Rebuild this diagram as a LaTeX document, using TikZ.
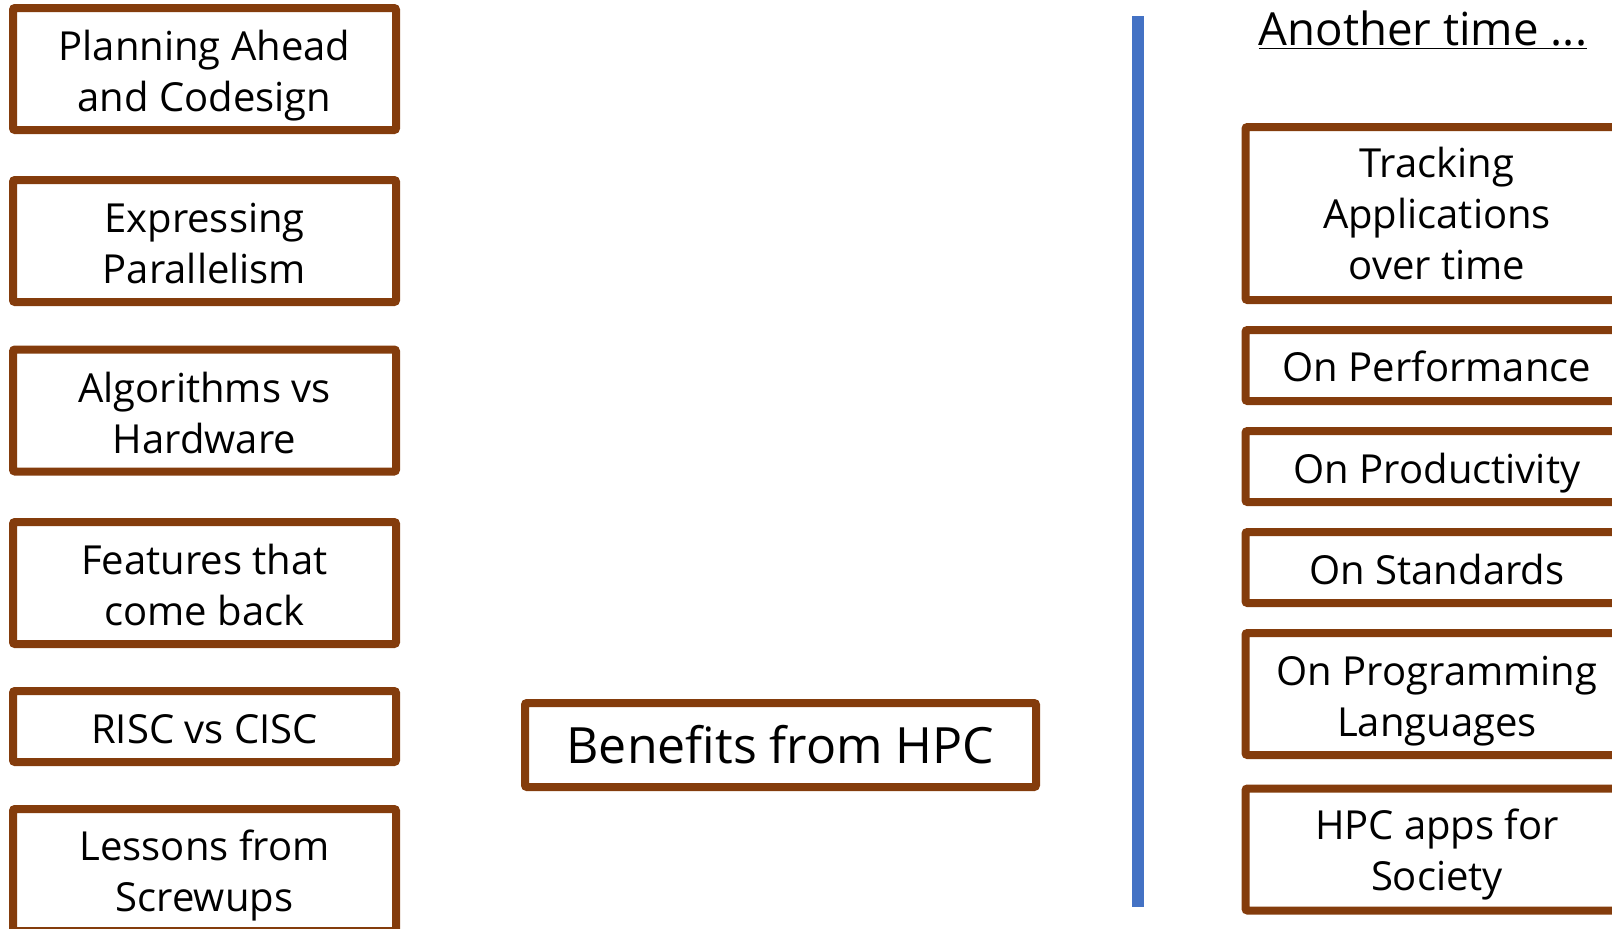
\documentclass[tikz,border=0pt]{standalone}
\usepackage{fontspec}
\setmainfont{Open Sans}
\definecolor{topicbrown}{RGB}{132,60,12}
\definecolor{dividerblue}{RGB}{68,114,196}
\tikzset{
  topic/.style={
    rectangle,
    draw=topicbrown,
    fill=white,
    line width=4pt,
    rounded corners=1pt,
    align=center,
    inner sep=0pt,
    minimum width=191.5pt,
    font=\fontsize{20}{25.5}\selectfont
  },
  topic-one/.style={topic, minimum height=35.5pt},
  topic-two/.style={topic, minimum height=61pt},
  topic-three/.style={topic, minimum height=86.5pt},
  topic-big/.style={topic, minimum width=255.5pt, minimum height=42pt,
    font=\fontsize{25}{30}\selectfont},
  text-drop/.style={execute at begin node={\rule{0pt}{#1}}},
  divider/.style={draw=dividerblue, line width=6pt}
}

\begin{document}
\begin{tikzpicture}[x=0.5pt, y=-0.5pt]
  \useasboundingbox (0,0) rectangle (1612,928);
  % left column
  \node[topic-two, text-drop=47pt]   (plan)     at (204.5,69)    {Planning Ahead\\and Codesign};
  \node[topic-two, text-drop=43pt]   (express)  at (204.5,241)   {Expressing\\Parallelism};
  \node[topic-two, text-drop=43pt]   (algo)     at (204.5,410.5) {Algorithms vs\\Hardware};
  \node[topic-two, text-drop=42.3pt] (features) at (204.5,583)   {Features that\\come back};
  \node[topic-one, text-drop=17pt]   (risc)     at (204.5,726.5) {RISC vs CISC};
  \node[topic-two, text-drop=46pt]   (lessons)  at (204.5,870)   {Lessons from\\Screwups};
  % centre
  \node[topic-big] (benefits) at (780.5,745) {Benefits from HPC};
  % separator
  \coordinate (div-top) at (1138,16);
  \coordinate (div-bot) at (1138,907);
  \draw[divider] (div-top) -- (div-bot);
  % right column
  \node[font=\fontsize{22.8}{28}\selectfont, inner sep=0pt, anchor=base]
    (later) at (1423,45) {\underline{Another time ...}};
  \node[topic-three] (tracking) at (1437,213.5) {Tracking\\Applications\\over time};
  \foreach \name/\y/\drop/\txt in {perf/365.5/16pt/On Performance,
                                   prod/466.5/22pt/On Productivity,
                                   std/567.5/17pt/On Standards} {
    \node[topic-one, text-drop=\drop] (\name) at (1437,\y) {\txt};
  }
  \node[topic-two, text-drop=47pt] (lang)    at (1437,694)   {On Programming\\Languages};
  \node[topic-two, text-drop=46pt] (society) at (1437,849.5) {HPC apps for\\Society};
\end{tikzpicture}
\end{document}
